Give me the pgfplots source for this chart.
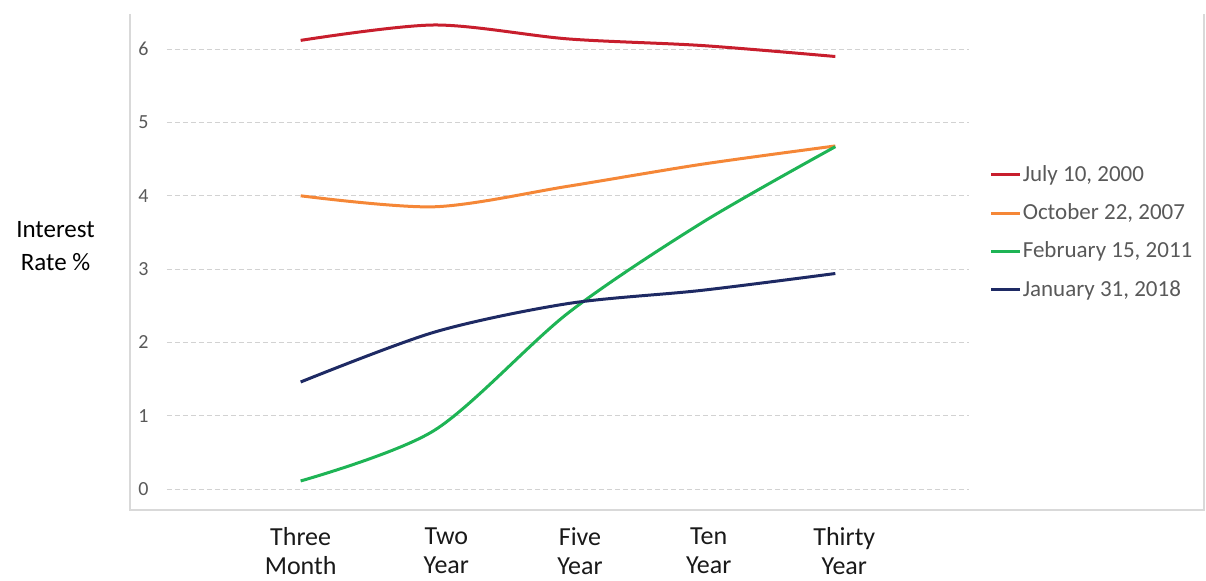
\documentclass[border=0pt]{standalone}
\usepackage{pgfplots}
\pgfplotsset{compat=1.18}
\usepackage{fontspec}
\setmainfont{Carlito}
\definecolor{cRed}{RGB}{200,30,45}
\definecolor{cOrange}{RGB}{245,135,55}
\definecolor{cGreen}{RGB}{30,180,85}
\definecolor{cNavy}{RGB}{30,42,100}
\definecolor{tickgray}{RGB}{89,89,89}
\definecolor{gridgray}{RGB}{210,210,210}
\definecolor{boxgray}{RGB}{217,217,217}
\begin{document}
\begin{tikzpicture}
\begin{axis}[
  scale only axis,
  width=401pt, height=248pt,
  xmin=0, xmax=6,
  ymin=-0.2865, ymax=6.48,
  axis line style={draw=none},
  clip=false,
  /pgf/number format/assume math mode=true,
  xtick={1,2,3,4,5},
  xticklabels={{Three\\Month},{\hspace*{12pt}Two\\\hspace*{12pt}Year},{\hspace*{12pt}Five\\\hspace*{12pt}Year},{\hspace*{7pt}Ten\\\hspace*{7pt}Year},{\hspace*{9pt}Thirty\\\hspace*{9pt}Year}},
  ytick={0,1,2,3,4,5,6},
  major tick length=0pt,
  tick style={draw=none},
  ymajorgrids,
  grid style={gridgray, line width=0.5pt, dash pattern=on 2.5pt off 1.5pt},
  yticklabel style={font=\fontsize{10}{11}\selectfont, text=tickgray, anchor=east, inner sep=0pt, xshift=-9pt},
  xticklabel style={font=\fontsize{13}{14.5}\selectfont, text=black!90, align=center, anchor=north, inner sep=0pt, yshift=-8.5pt},
  xticklabel pos=lower,
  yticklabel pos=left,
  ylabel={Interest\\Rate \%},
  every axis y label/.style={at={(rel axis cs:-0.139,0.532)}, anchor=center, align=center, font=\fontsize{12.5}{16.5}\selectfont},
  legend style={draw=none, fill=none, at={(rel axis cs:1.0254,0.698)}, anchor=north west, inner sep=0pt, row sep=8.7pt,
     nodes={inner sep=0.5pt, text=tickgray, font=\fontsize{11.5}{13}\selectfont}},
  legend cell align=left,
  legend image code/.code={\draw[#1] (0pt,0pt) -- (14.5pt,0pt);},
  every axis plot/.append style={line width=1.5pt, smooth, tension=0.5},
]
\draw[boxgray, line width=0.6pt] (rel axis cs:-0.0461,1) -- (rel axis cs:-0.0461,0) -- (rel axis cs:1.293,0) -- (rel axis cs:1.293,1);
\addplot[cRed] coordinates {(1,6.12) (2,6.33) (3,6.14) (4,6.05) (5,5.90)};
\addlegendentry{July 10, 2000}
\addplot[cOrange] coordinates {(1,4.00) (2,3.85) (3,4.13) (4,4.43) (5,4.68)};
\addlegendentry{October 22, 2007}
\addplot[cGreen] coordinates {(1,0.11) (2,0.80) (3,2.40) (4,3.63) (5,4.67)};
\addlegendentry{February 15, 2011}
\addplot[cNavy] coordinates {(1,1.46) (2,2.14) (3,2.53) (4,2.71) (5,2.94)};
\addlegendentry{January 31, 2018}
\coordinate (bl) at (rel axis cs:-0.2082,-0.1411);
\coordinate (tr) at (rel axis cs:1.2955,1.0282);
\end{axis}
\pgfresetboundingbox
\useasboundingbox (bl) rectangle (tr);
\end{tikzpicture}
\end{document}
